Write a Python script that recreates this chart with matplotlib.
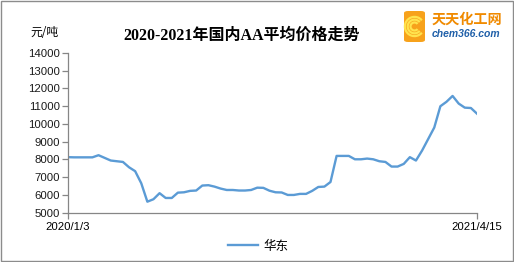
import numpy as np
import matplotlib
matplotlib.use("Agg")
import matplotlib.pyplot as plt
from matplotlib.patches import FancyBboxPatch, Rectangle, Arc

plt.rcParams['font.family'] = ['Liberation Sans', 'Noto Sans CJK SC', 'DejaVu Sans']

# 华东 weekly price, 2020/1/3 .. 2021/4/15
price_east = [8130, 8120, 8120, 8120, 8120, 8240, 8090, 7940, 7900, 7860,
              7560, 7340, 6660, 5620, 5760, 6100, 5830, 5830, 6130, 6150,
              6230, 6250, 6530, 6550, 6470, 6360, 6280, 6280, 6250, 6250,
              6280, 6410, 6400, 6240, 6150, 6140, 6000, 6000, 6060, 6060,
              6230, 6450, 6470, 6730, 8200, 8200, 8200, 8010, 8010, 8050,
              8010, 7900, 7860, 7600, 7600, 7750, 8130, 7940, 8500, 9150,
              9800, 11000, 11250, 11580, 11150, 10920, 10900, 10580]
x_labels = ["2020/1/3", "2021/4/15"]
y_ticks = [5000, 6000, 7000, 8000, 9000, 10000, 11000, 12000, 13000, 14000]
series_name = "华东"
title = "2020-2021年国内AA平均价格走势"
unit = "元/吨"

fig = plt.figure(figsize=(5.14, 2.62), dpi=100)
ax = fig.add_axes([68 / 514, 1 - 212.7 / 262, (477 - 68) / 514, (212.7 - 53) / 262])

x = np.arange(len(price_east))
line, = ax.plot(x, price_east, color='#5B9BD5', lw=1.7, solid_joinstyle='round')

ax.set_xlim(0, len(price_east) - 1)
ax.set_ylim(5000, 14000)
ax.set_yticks(y_ticks)
ax.set_xticks([0, len(price_east) - 1])
ax.set_xticklabels(x_labels)
for s in ['top', 'right']:
    ax.spines[s].set_visible(False)
for s in ['left', 'bottom']:
    ax.spines[s].set_color('#868686')
    ax.spines[s].set_linewidth(0.9)
ax.tick_params(axis='y', direction='out', length=4, width=0.9, color='#868686',
               labelsize=8.2, labelcolor='#1a1a1a', pad=2)
ax.tick_params(axis='x', direction='out', length=4, width=0.9, color='#868686',
               labelsize=8.2, labelcolor='#000000', pad=3)

fig.text(44 / 514, 1 - 32 / 262, unit, fontsize=8.5, ha='center', va='center',
         family=['Noto Sans CJK SC'])
fig.text(242 / 514, 1 - 36 / 262, title, fontsize=11.5, fontweight='bold',
         ha='center', va='center', family=['Liberation Serif', 'Noto Sans CJK SC'])

leg = fig.legend([line], [series_name], loc='center', bbox_to_anchor=(258 / 514, 1 - 246 / 262),
                 frameon=False, handlelength=2.4, handletextpad=0.4,
                 prop={'family': ['Noto Sans CJK SC'], 'size': 9})

# logo
logo = FancyBboxPatch((404 / 514, 1 - 42 / 262), 21 / 514, 31 / 262,
                      boxstyle='round,pad=0,rounding_size=0.008',
                      transform=fig.transFigure, facecolor='#F7A21B', edgecolor='none')
fig.add_artist(logo)
for r in [12, 8.5, 5]:
    fig.add_artist(Arc((414.5, 262 - 26.5), r * 1.6, r * 1.6, theta1=40, theta2=320,
                       transform=None, color='#FFE34D', lw=1.6))
fig.text(432 / 514, 1 - 20 / 262, "天天化工网", fontsize=10.2, color='#F08A00',
         fontweight='bold', ha='left', va='center', family=['Noto Sans CJK SC'])
fig.text(432 / 514, 1 - 34 / 262, "chem366.com", fontsize=7.5, color='#1F5FA8',
         fontweight='bold', style='italic', ha='left', va='center')

fig.add_artist(Rectangle((0.001, 0.002), 0.997, 0.995, transform=fig.transFigure,
                         fill=False, edgecolor='#8c8c8c', lw=1))

fig.savefig('out.png', dpi=100)
